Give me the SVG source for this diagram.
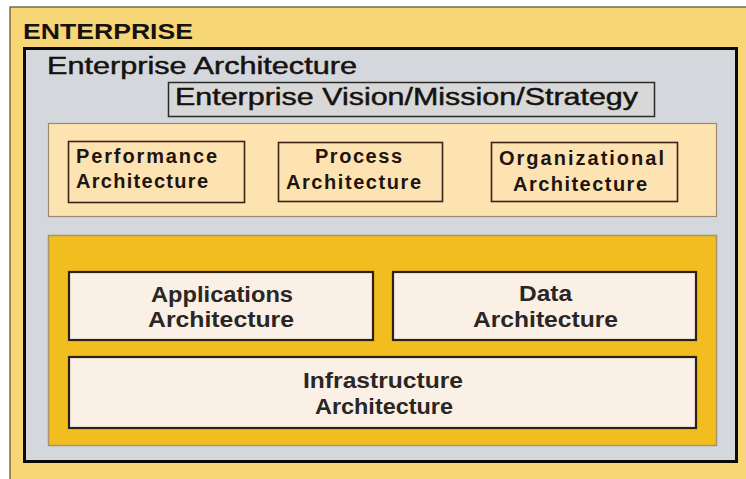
<svg xmlns="http://www.w3.org/2000/svg" width="746" height="479" viewBox="0 0 746 479">
<style>
text{font-family:"Liberation Sans",Arial,sans-serif;fill:#161210}
.b{font-weight:bold}
.med{stroke:#161210;stroke-width:0.45}
.top{font-size:20px;font-weight:bold;fill:#1e1410}
.bot{font-size:22px;font-weight:bold;fill:#2a2624}
.tbox{fill:#FDE3B2;stroke:#3a2418;stroke-width:1.6}
.bbox{fill:#FBF0E5;stroke:#2b2116;stroke-width:2.2}
</style>
<rect width="746" height="479" fill="#ffffff"/>
<g id="enterprise">
<rect x="10" y="7" width="740" height="477" fill="#F7D775" stroke="#5a4a30" stroke-width="1.2"/>
<text x="23" y="39" class="b" font-size="22" textLength="170" lengthAdjust="spacingAndGlyphs">ENTERPRISE</text>
</g>
<g id="enterprise-architecture">
<rect x="24.5" y="48.5" width="712" height="413" fill="#D4D7DB" stroke="#0c0a08" stroke-width="3"/>
<text x="47" y="74" font-size="23" class="med" textLength="310" lengthAdjust="spacingAndGlyphs">Enterprise Architecture</text>
</g>
<g id="vision">
<rect x="168.5" y="82.5" width="486" height="34" fill="#D8D8D8" stroke="#2a2a2a" stroke-width="1.5"/>
<text x="175" y="105" font-size="23" class="med" textLength="463" lengthAdjust="spacingAndGlyphs">Enterprise Vision/Mission/Strategy</text>
</g>
<g id="business-layer">
<rect x="48.5" y="123.5" width="668" height="93" fill="#FDE3B0" stroke="#9a8a72" stroke-width="1.2"/>
</g>
<g id="performance">
<rect class="tbox" x="68.5" y="141.5" width="176" height="61"/>
<text x="76" y="163" class="top" textLength="141" lengthAdjust="spacing">Performance</text>
<text x="76" y="188" class="top" textLength="132" lengthAdjust="spacing">Architecture</text>
</g>
<g id="process">
<rect class="tbox" x="278.5" y="142.5" width="164" height="59"/>
<text x="315" y="163" class="top" textLength="87" lengthAdjust="spacing">Process</text>
<text x="286" y="189" class="top" textLength="135" lengthAdjust="spacing">Architecture</text>
</g>
<g id="organizational">
<rect class="tbox" x="491.5" y="142.5" width="186" height="59"/>
<text x="499" y="165" class="top" textLength="165" lengthAdjust="spacing">Organizational</text>
<text x="513" y="191" class="top" textLength="134" lengthAdjust="spacing">Architecture</text>
</g>
<g id="technology-layer">
<rect x="48.5" y="235.5" width="668" height="210" fill="#F2BD1E" stroke="#a8946a" stroke-width="1.5"/>
</g>
<g id="applications">
<rect class="bbox" x="69" y="272" width="304" height="68"/>
<text x="151" y="302" class="bot" textLength="142" lengthAdjust="spacingAndGlyphs">Applications</text>
<text x="148" y="327" class="bot" textLength="146" lengthAdjust="spacingAndGlyphs">Architecture</text>
</g>
<g id="data">
<rect class="bbox" x="393" y="272" width="303" height="68"/>
<text x="519" y="301" class="bot" textLength="53" lengthAdjust="spacingAndGlyphs">Data</text>
<text x="473" y="327" class="bot" textLength="145" lengthAdjust="spacingAndGlyphs">Architecture</text>
</g>
<g id="infrastructure">
<rect class="bbox" x="69" y="357" width="627" height="71"/>
<text x="303" y="388" class="bot" textLength="160" lengthAdjust="spacingAndGlyphs">Infrastructure</text>
<text x="315" y="414" class="bot" textLength="138" lengthAdjust="spacingAndGlyphs">Architecture</text>
</g>
<g id="connectors"></g>
</svg>
